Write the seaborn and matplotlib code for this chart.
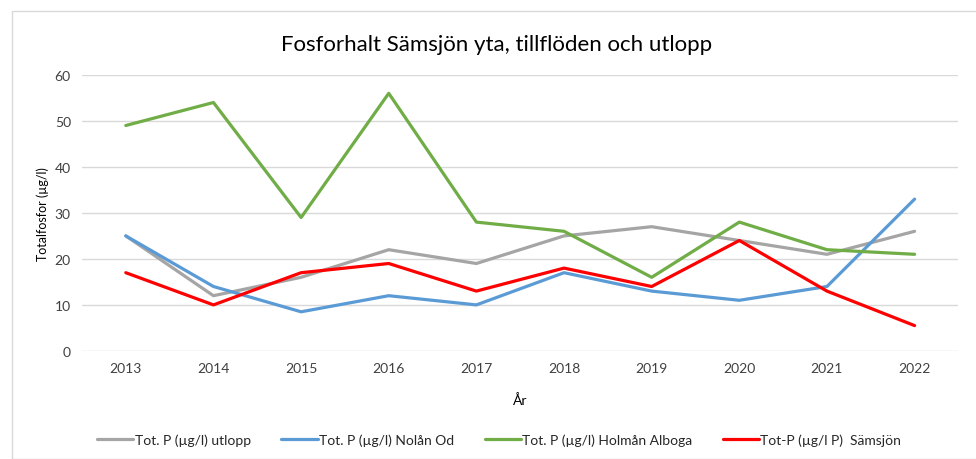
import matplotlib
matplotlib.use("Agg")
import matplotlib.pyplot as plt
import pandas as pd
import seaborn as sns
from matplotlib.patches import Rectangle

years = [2013, 2014, 2015, 2016, 2017, 2018, 2019, 2020, 2021, 2022]
utlopp = [25, 12, 16, 22, 19, 25, 27, 24, 21, 26]
nolan = [25, 14, 8.5, 12, 10, 17, 13, 11, 14, 33]
holman = [49, 54, 29, 56, 28, 26, 16, 28, 22, 21]
samsjon = [17, 10, 17, 19, 13, 18, 14, 24, 13, 5.5]

labels = [
    "Tot. P (µg/l) utlopp",
    "Tot. P (µg/l) Nolån Od",
    "Tot. P (µg/l) Holmån Alboga",
    "Tot-P (µg/l P)  Sämsjön",
]
colors = ["#A5A5A5", "#5B9BD5", "#70AD47", "#FF0000"]

df = pd.concat(
    [pd.DataFrame({"year": years, "value": vals, "series": lab})
     for vals, lab in zip([utlopp, nolan, holman, samsjon], labels)]
)

sns.set_style("white")
plt.rcParams["font.family"] = ["Lato", "DejaVu Sans"]

fig = plt.figure(figsize=(9.76, 4.6), dpi=100)
ax = fig.add_axes([0.084, 0.235, 0.898, 0.6])
fig.patches.append(Rectangle((12 / 976, 0), 1.2, (460 - 12) / 460, transform=fig.transFigure,
                             fill=False, edgecolor="#D9D9D9", linewidth=1))

sns.lineplot(data=df, x="year", y="value", hue="series", hue_order=labels,
             palette=colors, linewidth=2.3, ax=ax, legend=True)

ax.set_xlim(2012.5, 2022.5)
ax.set_ylim(0, 60)
ax.set_xticks(years)
ax.set_yticks(range(0, 61, 10))
ax.tick_params(axis="both", length=0, labelsize=10, colors="#404040", pad=8)
ax.yaxis.grid(True, color="#D9D9D9", linewidth=1)
ax.set_axisbelow(True)
for s in ax.spines.values():
    s.set_visible(False)

fig.text(497 / 976, 1 - 45 / 460, "Fosforhalt Sämsjön yta, tillflöden och utlopp",
         fontsize=16, color="#000000", ha="center", va="center")
ax.set_xlabel("År", fontsize=10, color="#000000", labelpad=14)
ax.set_ylabel("Totalfosfor (µg/l)", fontsize=9, color="#000000", labelpad=4)

handles, labs = ax.get_legend_handles_labels()
ax.legend(handles, labs, loc="center", bbox_to_anchor=(0.476, (460 - 441 - 108) / 276), ncol=4,
          frameon=False, fontsize=10, handlelength=2.6, columnspacing=2.2, handletextpad=0.1)

fig.savefig("out.png", dpi=100)
